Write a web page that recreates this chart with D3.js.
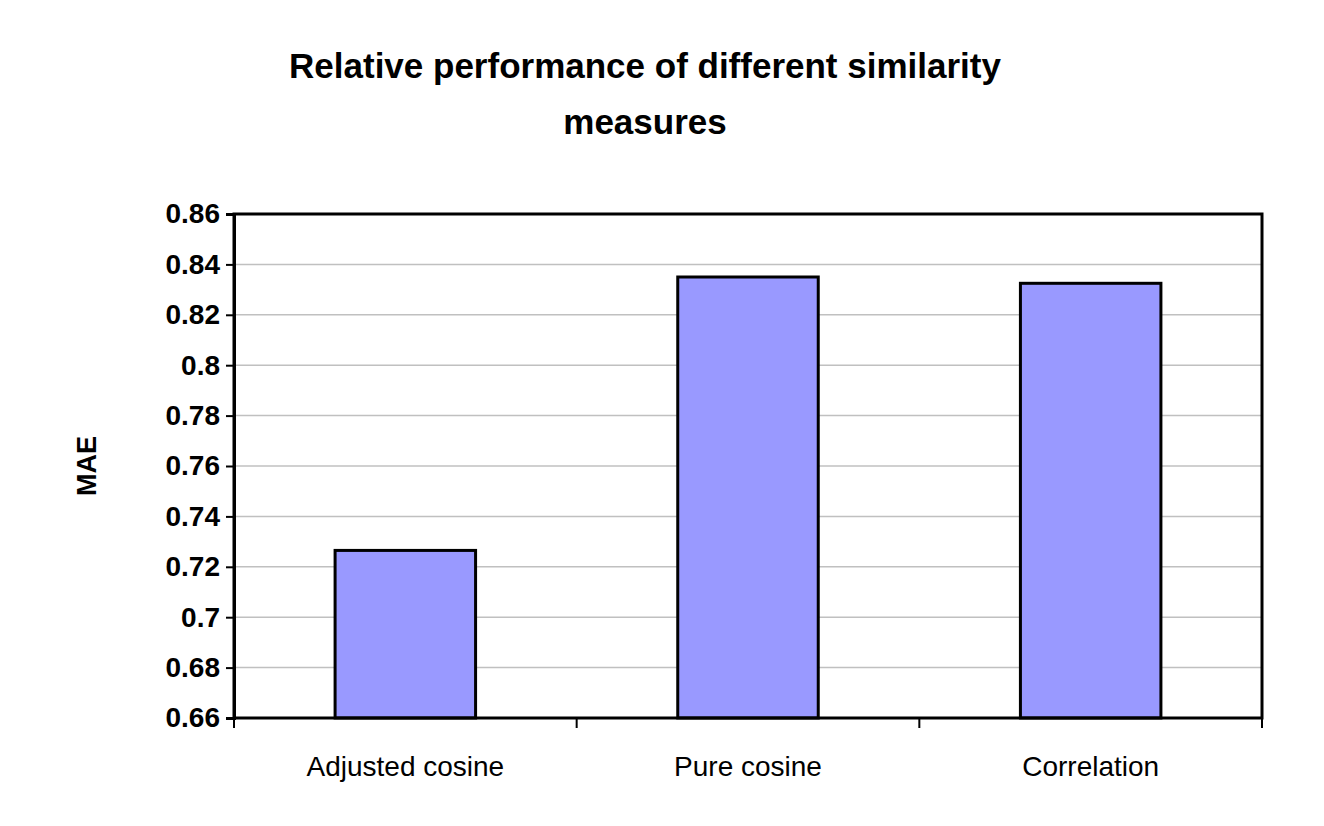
<!DOCTYPE html>
<meta charset="utf-8">
<script src="https://d3js.org/d3.v7.min.js"></script>
<style>body{margin:0;background:#fff}</style>
<div id="chart"></div>
<script>
var categories = ["Adjusted cosine", "Pure cosine", "Correlation"];
var values = [0.7265, 0.835, 0.8325];
var yTicks = [0.66, 0.68, 0.7, 0.72, 0.74, 0.76, 0.78, 0.8, 0.82, 0.84, 0.86];

var W = 1324, H = 826;
var margin = {top: 214, right: 62, bottom: 108, left: 234},
    width = W - margin.left - margin.right,
    height = H - margin.top - margin.bottom;

var svg = d3.select("#chart").append("svg")
    .attr("width", W).attr("height", H)
    .style("font-family", "Liberation Sans, Arial, sans-serif");

svg.append("text").attr("x", 645).attr("y", 78).attr("text-anchor", "middle")
  .attr("font-size", "35px").attr("font-weight", "bold")
  .text("Relative performance of different similarity");
svg.append("text").attr("x", 645).attr("y", 134).attr("text-anchor", "middle")
  .attr("font-size", "35px").attr("font-weight", "bold")
  .text("measures");

var g = svg.append("g").attr("transform", "translate(" + margin.left + "," + margin.top + ")");

var x = d3.scaleBand().domain(categories).range([0, width]).padding(0);
var y = d3.scaleLinear().domain([0.66, 0.86]).range([height, 0]);

// gridlines
g.selectAll(".grid").data(yTicks.slice(1, -1)).enter().append("line")
  .attr("x1", 0).attr("x2", width)
  .attr("y1", function(d) { return y(d); }).attr("y2", function(d) { return y(d); })
  .attr("stroke", "#c0c0c0").attr("stroke-width", 1.5);

// bars
var bw = x.bandwidth() * 0.41;
g.selectAll(".bar").data(values).enter().append("rect")
  .attr("x", function(d, i) { return x(categories[i]) + (x.bandwidth() - bw) / 2; })
  .attr("y", function(d) { return y(d); })
  .attr("width", bw)
  .attr("height", function(d) { return height - y(d); })
  .attr("fill", "#9999ff").attr("stroke", "#000").attr("stroke-width", 3);

// frame
g.append("rect").attr("width", width).attr("height", height)
  .attr("fill", "none").attr("stroke", "#000").attr("stroke-width", 3);

// y axis
var ya = g.append("g").call(d3.axisLeft(y).tickValues(yTicks).tickFormat(d3.format("")).tickSize(8).tickPadding(6));
ya.select(".domain").attr("stroke-width", 3);
ya.selectAll("line").attr("stroke-width", 2);
ya.selectAll("text").attr("font-size", "28px").attr("font-weight", "bold").attr("fill", "#000");

// x axis
var xa = g.append("g").attr("transform", "translate(0," + height + ")")
  .call(d3.axisBottom(x).tickSize(0).tickPadding(38));
xa.select(".domain").remove();
xa.selectAll("text").attr("font-size", "28px").attr("fill", "#000");
g.selectAll(".xt").data(d3.range(categories.length + 1)).enter().append("line")
  .attr("x1", function(i) { return i * x.step(); }).attr("x2", function(i) { return i * x.step(); })
  .attr("y1", height).attr("y2", height + 10)
  .attr("stroke", "#000").attr("stroke-width", 2);

svg.append("text").attr("transform", "translate(96,466) rotate(-90)")
  .attr("text-anchor", "middle").attr("font-size", "27px").attr("font-weight", "bold")
  .text("MAE");
</script>
